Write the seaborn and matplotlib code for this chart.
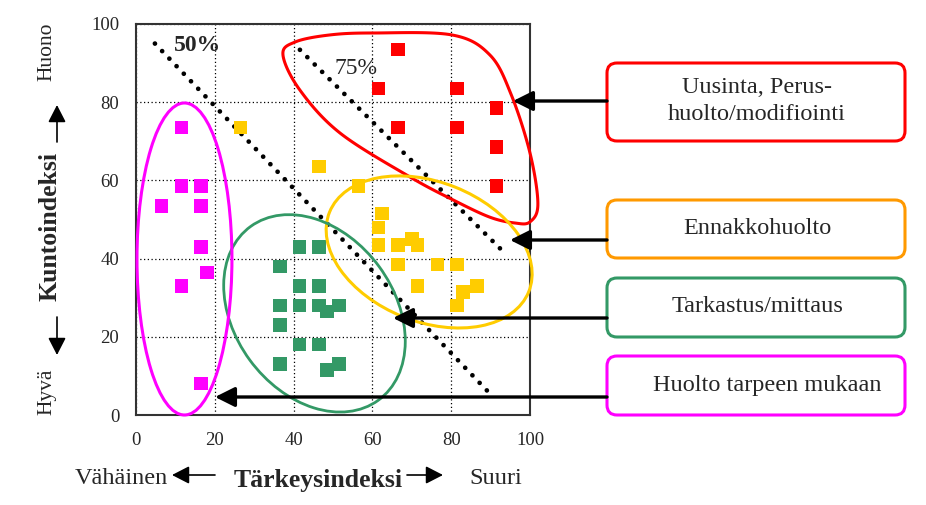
import numpy as np
import pandas as pd
import seaborn as sns
import matplotlib.pyplot as plt
from matplotlib.patches import Ellipse, Polygon, FancyBboxPatch

# Data
groups = ["Uusinta", "Ennakkohuolto", "Tarkastus", "Huolto"]
colors = ["#FF0000", "#FFCC00", "#339966", "#FF00FF"]

red_x = [66.5, 61.5, 81.5, 91.5, 66.5, 81.5, 91.5, 91.5]
red_y = [93.5, 83.5, 83.5, 78.5, 73.5, 73.5, 68.5, 58.5]
yellow_x = [26.5, 46.5, 56.5, 62.5, 61.5, 61.5, 66.5, 70, 71.5, 66.5, 76.5, 81.5, 71.5, 86.5, 83, 81.5]
yellow_y = [73.5, 63.5, 58.5, 51.5, 48, 43.5, 43.5, 45, 43.5, 38.5, 38.5, 38.5, 33, 33, 31.5, 28]
green_x = [41.5, 46.5, 36.5, 41.5, 46.5, 36.5, 41.5, 46.5, 48.5, 51.5, 36.5, 41.5, 46.5, 36.5, 51.5, 48.5]
green_y = [43, 43, 38, 33, 33, 28, 28, 28, 26.5, 28, 23, 18, 18, 13, 13, 11.5]
magenta_x = [11.5, 11.5, 16.5, 6.5, 16.5, 16.5, 18, 11.5, 16.5]
magenta_y = [73.5, 58.5, 58.5, 53.5, 53.5, 43, 36.5, 33, 8]

# threshold lines
line50_x = [4.8, 89.8]
line50_y = [95, 5.5]
line75_x = [41.6, 94.1]
line75_y = [93.4, 40.9]

ticks = [0, 20, 40, 60, 80, 100]
box_texts = ["Uusinta, Perus-\nhuolto/modifiointi", "Ennakkohuolto",
             "Tarkastus/mittaus", "Huolto tarpeen mukaan"]
box_edge = ["#FF0000", "#FF9900", "#339966", "#FF00FF"]

# build a table
df = pd.DataFrame({
    "x": red_x + yellow_x + green_x + magenta_x,
    "y": red_y + yellow_y + green_y + magenta_y,
    "group": [groups[0]] * len(red_x) + [groups[1]] * len(yellow_x)
             + [groups[2]] * len(green_x) + [groups[3]] * len(magenta_x),
})

sns.set_style("white")
plt.rcParams['font.family'] = ['Liberation Serif', 'DejaVu Serif']

fig = plt.figure(figsize=(9.26, 5.05), dpi=100)
ax = fig.add_axes([136 / 926, 90 / 505, 394 / 926, 391 / 505])

sns.scatterplot(data=df, x="x", y="y", hue="group", hue_order=groups,
                palette=colors, marker="s", s=95, linewidth=0,
                legend=False, ax=ax, zorder=4)

ax.set_xlim(0, 100)
ax.set_ylim(0, 100)
ax.set_xticks(ticks)
ax.set_yticks(ticks)
ax.tick_params(length=0, labelsize=13.5, pad=12)
ax.grid(True, color="black", linestyle=(0, (1, 2)), linewidth=0.9)
ax.set_axisbelow(True)
for s in ax.spines.values():
    s.set_color("#333333")
    s.set_linewidth(1.5)

ax.set_xlabel("Tärkeysindeksi", fontsize=18.5, fontweight="bold")
ax.set_ylabel("Kuntoindeksi", fontsize=18.5, fontweight="bold")
ax.xaxis.set_label_coords(0.462, -0.138)
ax.yaxis.set_label_coords(-0.19, 0.481)

# dotted threshold lines
for lx, ly in [(line50_x, line50_y), (line75_x, line75_y)]:
    ax.plot(lx, ly, color="black", lw=3.4, linestyle=(0, (0.01, 2.2)),
            dash_capstyle="round", zorder=3)
ax.text(15.5, 94.6, "50%", fontsize=17, fontweight="bold", ha="center", va="center")
ax.text(55.8, 88.7, "75%", fontsize=17, ha="center", va="center")


# closed smooth curve through points (Catmull-Rom)
def closed_curve(pts, n=20):
    P = np.array(pts, dtype=float)
    m = len(P)
    t = np.linspace(0, 1, n, endpoint=False)[:, None]
    out = []
    for i in range(m):
        p0, p1, p2, p3 = P[i - 1], P[i], P[(i + 1) % m], P[(i + 2) % m]
        out.append(0.5 * (2 * p1 + (-p0 + p2) * t
                          + (2 * p0 - 5 * p1 + 4 * p2 - p3) * t ** 2
                          + (-p0 + 3 * p1 - 3 * p2 + p3) * t ** 3))
    return np.vstack(out)


red_outline = [(37.3, 92.1), (40.4, 95.4), (49.2, 97.2), (60.2, 97.7), (80.2, 97.2),
               (89.8, 92.1), (95.2, 82), (100, 67), (102, 54), (100, 49.4),
               (96.2, 49.1), (89.8, 50.6), (80.5, 55), (69.5, 60.9), (51.8, 72.1),
               (41.6, 83.1)]
ax.add_patch(Polygon(closed_curve(red_outline), closed=True, fill=False,
                     ec="#FF0000", lw=2.2, clip_on=False, zorder=5))
ax.add_patch(Ellipse((74.4, 41.7), 54.5, 35.7, angle=-22, fill=False,
                     ec="#FFCC00", lw=2.2, clip_on=False, zorder=5))
ax.add_patch(Ellipse((45.3, 26.0), 55, 40.6, angle=-54, fill=False,
                     ec="#339966", lw=2.0, clip_on=False, zorder=5))
ax.add_patch(Ellipse((12.3, 39.9), 24.1, 79.8, fill=False,
                     ec="#FF00FF", lw=2.2, clip_on=False, zorder=5))

# overlay in pixel units for the boxes and arrows
ov = fig.add_axes([0, 0, 1, 1])
ov.set_xlim(0, 926)
ov.set_ylim(505, 0)
ov.axis("off")
ov.patch.set_alpha(0)

box_y = [(63, 141), (200, 258), (278, 337), (356, 415)]
text_y = [101, 228, 307, 385]
text_x = [757, 757, 757, 767]
tips = [(513, 101), (510, 240), (393, 318), (215, 397)]
for (y0, y1), tx, ty, tip, txt, ec in zip(box_y, text_x, text_y, tips, box_texts, box_edge):
    ov.add_patch(FancyBboxPatch((607, y0), 298, y1 - y0,
                                boxstyle="round,pad=0,rounding_size=10",
                                fill=False, ec=ec, lw=2.2))
    ov.text(tx, ty, txt, fontsize=17.5, ha="center", va="center", linespacing=1.35)
    ov.annotate("", xy=tip, xytext=(607, tip[1]),
                arrowprops=dict(arrowstyle="-|>,head_length=0.6,head_width=0.3",
                                mutation_scale=20, lw=2.4, color="black",
                                shrinkA=0, shrinkB=0))

small = dict(arrowstyle="-|>,head_length=0.7,head_width=0.36", mutation_scale=15,
             lw=1.2, color="black", shrinkA=0, shrinkB=0)
ov.text(47, 52, "Huono", fontsize=15.5, rotation=90, ha="center", va="center")
ov.text(47, 392, "Hyvä", fontsize=15.5, rotation=90, ha="center", va="center")
ov.annotate("", xy=(57, 105), xytext=(57, 142), arrowprops=small)
ov.annotate("", xy=(57, 355), xytext=(57, 317), arrowprops=small)
ov.text(121, 478, "Vähäinen", fontsize=17.5, ha="center", va="center")
ov.text(496, 478, "Suuri", fontsize=17.5, ha="center", va="center")
ov.annotate("", xy=(172, 475), xytext=(215, 475), arrowprops=small)
ov.annotate("", xy=(443, 475), xytext=(407, 475), arrowprops=small)

fig.savefig("out.png", dpi=100)
